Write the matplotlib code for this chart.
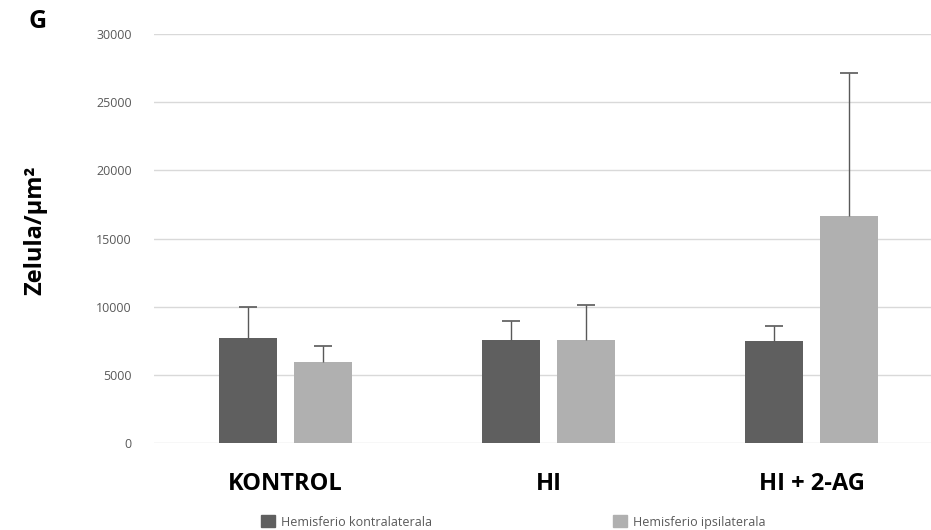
import matplotlib.pyplot as plt
import matplotlib.patches as mpatches
import numpy as np

groups = ['KONTROL', 'HI', 'HI + 2-AG']
series = ['Hemisferio kontralaterala', 'Hemisferio ipsilaterala']
contra = [7720, 7520, 7500]
contra_err = [2280, 1400, 1100]
ipsi = [5950, 7520, 16640]
ipsi_err = [1130, 2630, 10490]
yticks = [0, 5000, 10000, 15000, 20000, 25000, 30000]

dark = '#5f5f5f'
light = '#b0b0b0'
tick_grey = '#595959'

plt.rcParams['font.family'] = ['Open Sans', 'DejaVu Sans']

fig = plt.figure(figsize=(9.31, 5.30), dpi=100)
ax = fig.add_axes([154 / 931, 1 - 443 / 530, 1 - 154 / 931, (443 - 34) / 530])

x = np.arange(len(groups))
w = 0.222
off = 0.142
ax.bar(x - off, contra, w, color=dark, zorder=2)
ax.bar(x + off, ipsi, w, color=light, zorder=2)

# upper error bars only: hide the lower caps
for xs, vals, errs in [(x - off, contra, contra_err), (x + off, ipsi, ipsi_err)]:
    eb = ax.errorbar(xs, vals, yerr=[np.zeros(3), errs], fmt='none',
                     ecolor=tick_grey, elinewidth=1, capsize=6.5,
                     capthick=1.2, zorder=3)
    eb[1][0].set_visible(False)

ax.set_xlim(-0.5, 2.454)
ax.set_ylim(0, 30000)
ax.set_yticks(yticks)
ax.set_yticklabels([str(v) for v in yticks], fontsize=9, color=tick_grey)
ax.yaxis.grid(True, color='#d9d9d9', linewidth=1, zorder=0)
ax.set_axisbelow(True)
ax.tick_params(axis='y', length=0, pad=16)
ax.tick_params(axis='x', length=0, pad=21)
ax.set_xticks(x)
ax.set_xticklabels(groups, fontsize=17, fontweight='bold', color='black')
for s in ax.spines.values():
    s.set_visible(False)

fig.text(35 / 931, 1 - 230 / 530, 'Zelula/µm²', rotation=90, fontsize=17,
         fontweight='bold', ha='center', va='center')
fig.text(38 / 931, 1 - 22 / 530, 'G', fontsize=18, fontweight='bold',
         ha='center', va='center')

for xpos, col, lab in [(252, dark, series[0]), (604, light, series[1])]:
    fig.legend(handles=[mpatches.Patch(color=col, label=lab)],
               loc='center left', bbox_to_anchor=(xpos / 931, 1 - 522 / 530),
               frameon=False, fontsize=9, handlelength=1.1, handleheight=1.1,
               handletextpad=0.5, labelcolor=tick_grey, borderpad=0.2)

fig.savefig('out.png', dpi=100)
